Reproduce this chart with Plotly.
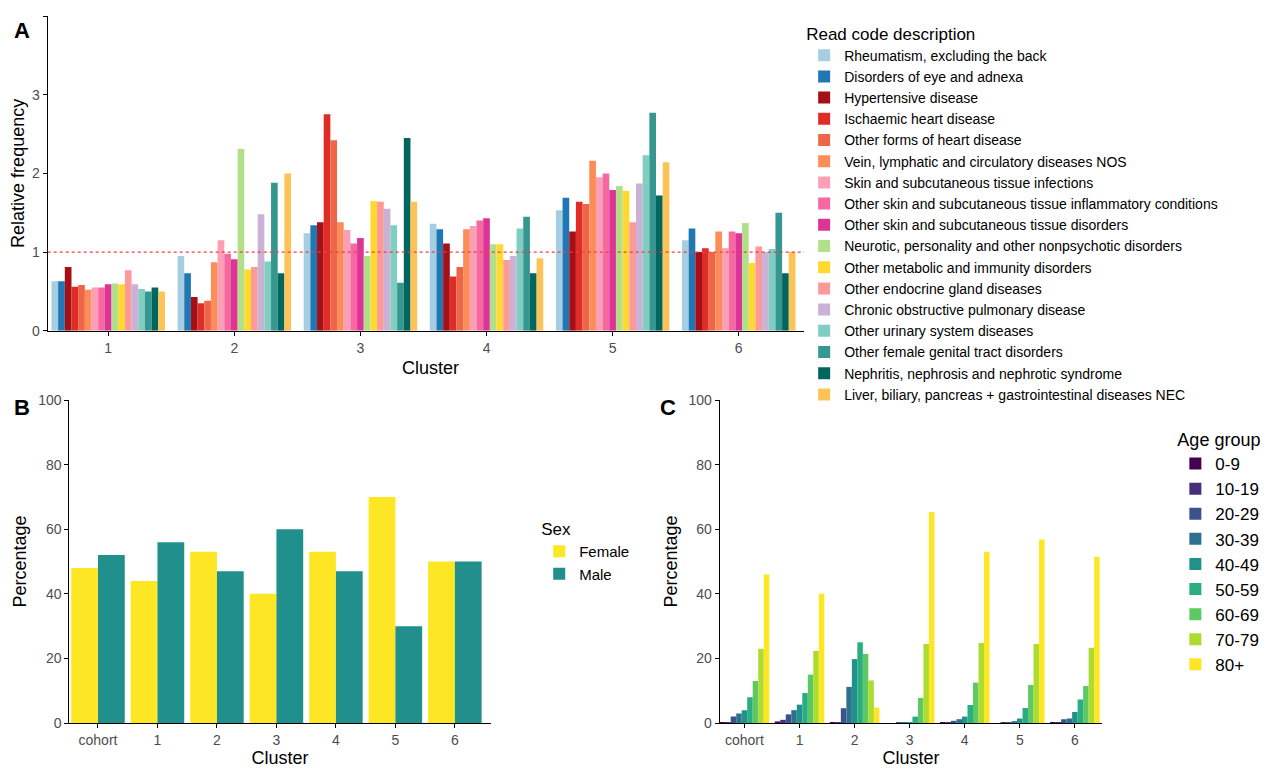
import plotly.graph_objects as go

clusters = ["1", "2", "3", "4", "5", "6"]
read_codes = [
    "Rheumatism, excluding the back", "Disorders of eye and adnexa", "Hypertensive disease",
    "Ischaemic heart disease", "Other forms of heart disease", "Vein, lymphatic and circulatory diseases NOS",
    "Skin and subcutaneous tissue infections", "Other skin and subcutaneous tissue inflammatory conditions",
    "Other skin and subcutaneous tissue disorders", "Neurotic, personality and other nonpsychotic disorders",
    "Other metabolic and immunity disorders", "Other endocrine gland diseases",
    "Chronic obstructive pulmonary disease", "Other urinary system diseases",
    "Other female genital tract disorders", "Nephritis, nephrosis and nephrotic syndrome",
    "Liver, biliary, pancreas + gastrointestinal diseases NEC",
]
code_colors = ["#a6cee3", "#1f78b4", "#a50f15", "#de2d26", "#ef6548", "#fc8d59", "#fa9fb5", "#f768a1",
               "#dd3497", "#b2df8a", "#ffd92f", "#fb9a99", "#cab2d6", "#80cdc1", "#35978f", "#01665e", "#fdc357"]
# rows: clusters 1..6, cols: read codes
rel_freq = [
    [0.63, 0.63, 0.81, 0.56, 0.58, 0.52, 0.55, 0.55, 0.59, 0.60, 0.59, 0.77, 0.59, 0.53, 0.50, 0.55, 0.50],
    [0.95, 0.73, 0.43, 0.35, 0.38, 0.87, 1.15, 0.98, 0.91, 2.31, 0.78, 0.81, 1.48, 0.88, 1.88, 0.73, 2.00],
    [1.24, 1.34, 1.38, 2.75, 2.42, 1.38, 1.28, 1.11, 1.18, 0.95, 1.65, 1.64, 1.55, 1.34, 0.61, 2.45, 1.64],
    [1.36, 1.29, 1.11, 0.69, 0.81, 1.29, 1.33, 1.40, 1.43, 1.10, 1.10, 0.90, 0.95, 1.30, 1.45, 0.73, 0.92],
    [1.53, 1.69, 1.26, 1.64, 1.61, 2.16, 1.95, 2.00, 1.79, 1.84, 1.78, 1.38, 1.87, 2.23, 2.77, 1.72, 2.14],
    [1.15, 1.30, 1.00, 1.05, 1.00, 1.26, 1.05, 1.26, 1.24, 1.37, 0.86, 1.07, 1.00, 1.04, 1.50, 0.73, 1.00],
]

groups = ["cohort", "1", "2", "3", "4", "5", "6"]
female = [48, 44, 53, 40, 53, 70, 50]
male = [52, 56, 47, 60, 47, 30, 50]

age_groups = ["0-9", "10-19", "20-29", "30-39", "40-49", "50-59", "60-69", "70-79", "80+"]
age_colors = ["#440154", "#472d7b", "#3b528b", "#2c728e", "#21918c", "#28ae80", "#5ec962", "#addc30", "#fde725"]
# rows: groups (cohort,1..6), cols: age groups
age_pct = [
    [0.1, 0.3, 2.0, 3.0, 4.0, 8.0, 13.0, 23.0, 46.0],
    [0.5, 1.0, 2.7, 4.0, 5.7, 9.3, 15.0, 22.3, 40.0],
    [0.1, 0.3, 4.6, 11.2, 19.8, 25.0, 21.4, 13.2, 4.8],
    [0.0, 0.0, 0.1, 0.1, 0.3, 2.0, 7.8, 24.5, 65.3],
    [0.1, 0.2, 0.7, 1.2, 2.0, 5.6, 12.5, 24.8, 53.0],
    [0.0, 0.1, 0.3, 0.6, 1.4, 4.7, 11.8, 24.5, 56.8],
    [0.1, 0.2, 1.2, 1.4, 3.4, 7.3, 11.5, 23.3, 51.5],
]

fig = go.Figure()
for j, name in enumerate(read_codes):
    fig.add_trace(go.Bar(x=clusters, y=[row[j] for row in rel_freq], name=name,
                         marker=dict(color=code_colors[j], line_width=0),
                         xaxis="x", yaxis="y", legend="legend", offsetgroup="a%d" % j))
fig.add_trace(go.Bar(x=groups, y=female, name="Female", marker=dict(color="#fde725", line_width=0),
                     xaxis="x2", yaxis="y2", legend="legend2", offsetgroup="f"))
fig.add_trace(go.Bar(x=groups, y=male, name="Male", marker=dict(color="#21908c", line_width=0),
                     xaxis="x2", yaxis="y2", legend="legend2", offsetgroup="m"))
for j, name in enumerate(age_groups):
    fig.add_trace(go.Bar(x=groups, y=[row[j] for row in age_pct], name=name,
                         marker=dict(color=age_colors[j], line_width=0),
                         xaxis="x3", yaxis="y3", legend="legend3", offsetgroup="g%d" % j))

fig.add_shape(type="line", xref="x domain", yref="y", x0=0, x1=1, y0=1, y1=1,
              line=dict(color="#f03b45", width=1.2, dash="dot"))

ax = dict(showline=True, linecolor="black", linewidth=1, ticks="outside", tickcolor="black",
          ticklen=4, showgrid=False, zeroline=False, tickfont=dict(size=14, color="#4d4d4d"),
          title_font=dict(size=18, color="black"))
fig.update_layout(
    width=1280, height=769, paper_bgcolor="white", plot_bgcolor="white",
    margin=dict(l=0, r=0, t=0, b=0), barmode="group", bargap=0.1, bargroupgap=0,
    font=dict(family="Liberation Sans, Arial", color="black"),
    xaxis=dict(ax, domain=[0.031, 0.629], anchor="y", type="category", range=[-0.48, 5.59],
               title=dict(text="Cluster", standoff=6)),
    yaxis=dict(ax, domain=[0.582, 1.0], anchor="x", range=[0, 4], dtick=1,
               title=dict(text="Relative frequency", standoff=4)),
    xaxis2=dict(ax, domain=[0.048, 0.377], anchor="y2", type="category", range=[-0.48, 6.6],
                title=dict(text="Cluster", standoff=4)),
    yaxis2=dict(ax, domain=[0.061, 0.490], anchor="x2", range=[0, 100], dtick=20,
                title=dict(text="Percentage", standoff=6)),
    xaxis3=dict(ax, domain=[0.556, 0.855], anchor="y3", type="category", range=[-0.45, 6.5],
                title=dict(text="Cluster", standoff=4)),
    yaxis3=dict(ax, domain=[0.061, 0.490], anchor="x3", range=[0, 100], dtick=20,
                title=dict(text="Percentage", standoff=6)),
    legend=dict(x=0.622, y=0.998, xanchor="left", yanchor="top", font=dict(size=14),
                title=dict(text="Read code description", font=dict(size=17)), tracegroupgap=0),
    legend2=dict(x=0.415, y=0.34, xanchor="left", yanchor="top", font=dict(size=15),
                 title=dict(text="Sex", font=dict(size=17))),
    legend3=dict(x=0.912, y=0.46, xanchor="left", yanchor="top", font=dict(size=17),
                 title=dict(text="Age group", font=dict(size=18))),
    annotations=[
        dict(text="<b>A</b>", x=0.003, y=1.0, xref="paper", yref="paper", showarrow=False,
             xanchor="left", yanchor="top", font=dict(size=22)),
        dict(text="<b>B</b>", x=0.003, y=0.50, xref="paper", yref="paper", showarrow=False,
             xanchor="left", yanchor="top", font=dict(size=22)),
        dict(text="<b>C</b>", x=0.508, y=0.50, xref="paper", yref="paper", showarrow=False,
             xanchor="left", yanchor="top", font=dict(size=22)),
    ],
)
fig.write_html("out.html")
